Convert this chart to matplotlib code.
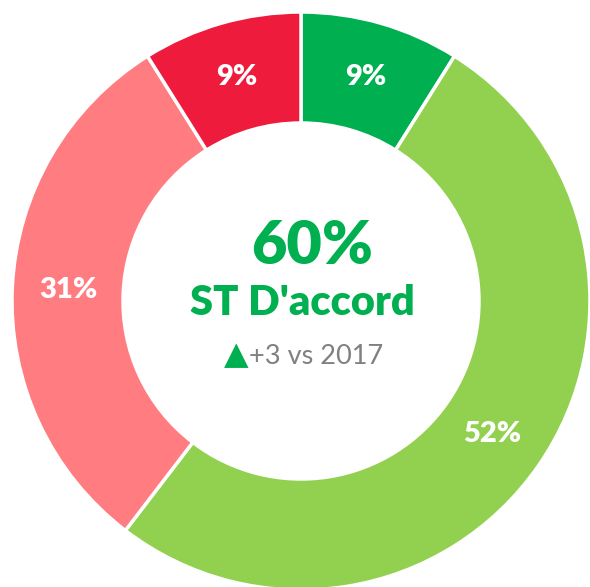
import matplotlib
matplotlib.use("Agg")
import matplotlib.pyplot as plt

categories = ["Tout à fait d'accord", "Plutôt d'accord", "Plutôt pas d'accord", "Pas du tout d'accord"]
values = [9, 52, 31, 9]
colors = ["#00B050", "#92D050", "#FF7C80", "#EE1B3C"]
pct_labels = [f"{v}%" for v in values]
center_value = "60%"
center_title = "ST D'accord"
delta_text = "+3 vs 2017"

plt.rcParams['font.family'] = ['Lato', 'DejaVu Sans']

fig = plt.figure(figsize=(5.9, 5.87), dpi=100)
ax = fig.add_axes([0, 0, 1, 1])

cx, cy, R = 301, 286, 289
wedges, texts = ax.pie(values, colors=colors, labels=pct_labels, startangle=90,
                       counterclock=False, center=(cx, cy), radius=R,
                       labeldistance=233 / R,
                       wedgeprops=dict(width=111, edgecolor='white', linewidth=2.5),
                       textprops=dict(color='white', fontsize=21, fontweight='heavy'))
for t in texts:
    t.set_ha('center')
    t.set_va('center')

ax.set_xlim(0, 590)
ax.set_ylim(0, 587)
ax.set_aspect('equal')
ax.axis('off')

green = "#00B050"
ax.text(312, 587 - 246, center_value, ha='center', va='center', color=green,
        fontsize=44, fontweight='heavy')
ax.text(302, 587 - 303, center_title, ha='center', va='center', color=green,
        fontsize=30, fontweight='heavy')
ax.text(316, 587 - 357, delta_text, ha='center', va='center', color='#808080',
        fontsize=19.5)
ax.text(236, 587 - 356, "▲", ha='center', va='center', color=green,
        fontsize=23, family=['DejaVu Sans'])

fig.savefig("out.png", dpi=100)
